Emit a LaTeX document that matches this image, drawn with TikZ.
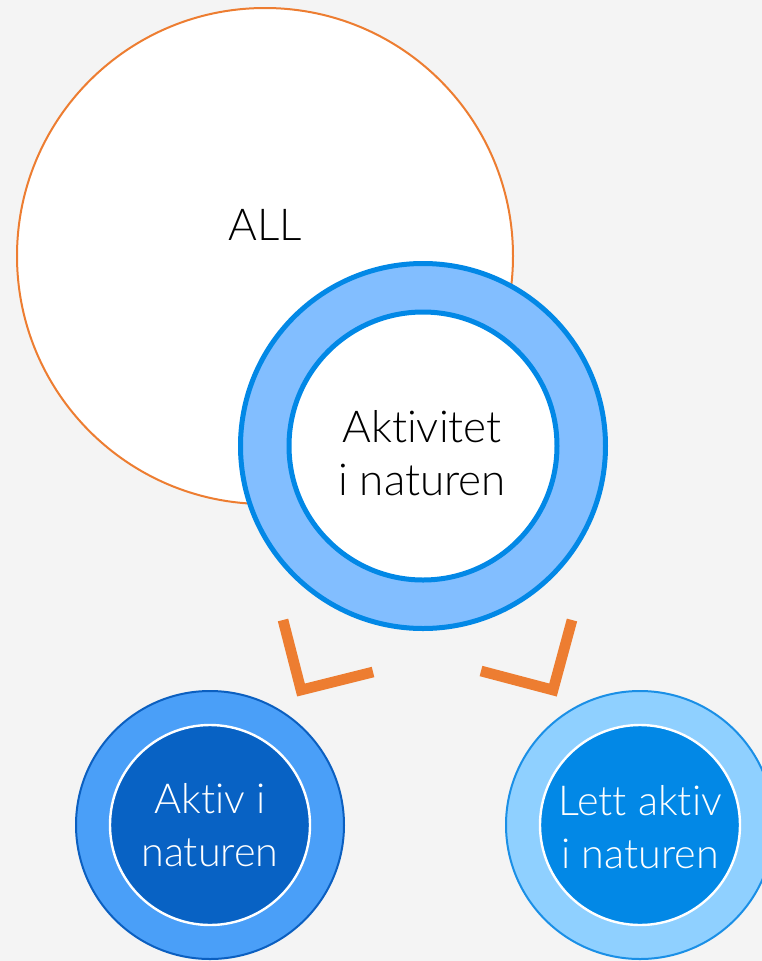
\documentclass[tikz,border=0pt]{standalone}
\usepackage{fontspec}
\setmainfont{Lato}[UprightFont={* Light},Ligatures=NoCommon]
\usetikzlibrary{positioning}

\definecolor{bggray}{HTML}{F4F4F4}
\definecolor{allorange}{HTML}{ED7D31}
\definecolor{ringblue}{HTML}{0288E6}
\definecolor{ringfill}{HTML}{82BEFF}
\definecolor{darkedge}{HTML}{0B5FC0}
\definecolor{darkouter}{HTML}{4A9FF8}
\definecolor{darkinner}{HTML}{0862C4}
\definecolor{lightedge}{HTML}{1A8FE6}
\definecolor{lightouter}{HTML}{8FD0FF}

\tikzset{
  ring/.style={circle,inner sep=0pt},
  bigtext/.style={align=center,font=\fontsize{33}{40}\selectfont},
  smalltext/.style={align=center,text=white,font=\fontsize{31}{40}\selectfont},
  chevron/.style={draw=allorange,line width=8pt,line join=miter}
}

\begin{document}
\begin{tikzpicture}[x=0.75pt,y=-0.75pt]
\fill[bggray] (0,0) rectangle (762,961);
\useasboundingbox (0,0) rectangle (762,961);

\node[ring,draw=allorange,fill=white,line width=1.5pt,minimum size=372pt] (all) at (265,256) {};
\node[bigtext] (alltext) at (265,225) {ALL};

\node[ring,draw=ringblue,fill=ringfill,line width=3.75pt,minimum size=273.75pt] (natouter) at (423,446) {};
\node[ring,draw=ringblue,fill=white,line width=3.75pt,minimum size=201pt] (natinner) at (natouter.center) {};
\node[bigtext] (nattext) at (422,453) {Aktivitet\\i naturen};

\coordinate (lt) at (283,620);
\coordinate (lc) at (301,690);
\coordinate (lr) at (373,672);
\draw[chevron] (lt) -- (lc) -- (lr);
\coordinate (rt) at (572,620);
\coordinate (rc) at (553,690);
\coordinate (rl) at (481,671);
\draw[chevron] (rt) -- (rc) -- (rl);

\node[ring,draw=darkedge,fill=darkouter,line width=1.5pt,minimum size=201pt] (aktouter) at (210,825) {};
\node[ring,draw=white,fill=darkinner,line width=1.8pt,minimum size=150pt] (aktinner) at (aktouter.center) {};
\node[smalltext] (akttext) at (210,825) {Aktiv i\\naturen};

\node[ring,draw=lightedge,fill=lightouter,line width=1.5pt,minimum size=201pt] (lettouter) at (640,825) {};
\node[ring,draw=white,fill=ringblue,line width=1.8pt,minimum size=150pt] (lettinner) at (lettouter.center) {};
\node[smalltext] (letttext) at (640,827) {Lett aktiv\\i naturen};
\end{tikzpicture}
\end{document}
